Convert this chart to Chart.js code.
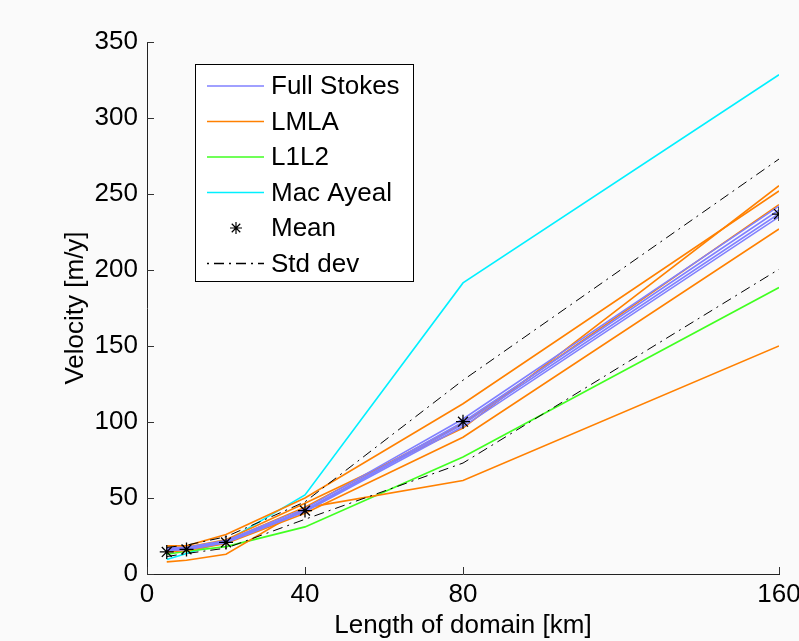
<!DOCTYPE html>
<html>
<head>
<meta charset="utf-8">
<script src="https://cdn.jsdelivr.net/npm/chart.js@4"></script>
<style>
  body { margin: 0; background: #fafafa; }
  #wrap { width: 799px; height: 641px; }
</style>
</head>
<body>
<div id="wrap"><canvas id="velChart" width="799" height="641"></canvas></div>
<script>
// domain lengths (km)
const lengths = [5, 10, 20, 40, 80, 160];
const xTicks = [0, 40, 80, 160];

// Full Stokes runs
const fullStokes = [
  [17, 17.5, 22, 43, 102, 242],
  [16.5, 17, 21.5, 42, 100, 239.5],
  [16, 16.5, 21, 41.5, 98.5, 237],
  [15.5, 16, 20.5, 41, 97, 235]
];
// LMLA runs
const lmla = [
  [18.5, 18.5, 26, 50, 112, 252],
  [16.5, 17.5, 22.5, 46.5, 96, 255.5],
  [15.5, 16.5, 21.5, 44, 99, 243],
  [14.5, 15.5, 20, 40, 90, 227],
  [8, 9, 13, 43.5, 61.5, 150]
];
const l1l2 = [13, 15, 18, 31, 77, 188.5];
const macAyeal = [9.5, 13.5, 21.5, 52, 191.5, 328.5];
const meanVel = [14.5, 16.2, 20.8, 41.7, 100.2, 236.8];
const stdUpper = [17.5, 19, 24.5, 47.5, 127.5, 273];
const stdLower = [11.5, 13.5, 17, 36, 73, 200.5];

const FONT = "'Liberation Sans', Arial, Helvetica, sans-serif";
const cFS = 'rgb(128,128,255)';
const cLM = 'rgb(255,128,0)';
const cL1 = 'rgb(64,255,32)';
const cMA = 'rgb(0,240,255)';

function pts(vals) {
  return vals.map((v, i) => ({ x: lengths[i], y: v }));
}

function lineSet(label, vals, color, order) {
  return {
    label: label,
    data: pts(vals),
    borderColor: color,
    borderWidth: 1.6,
    pointRadius: 0,
    fill: false,
    tension: 0,
    order: order
  };
}

const datasets = [];
fullStokes.forEach(r => datasets.push(lineSet('Full Stokes', r, cFS, 3)));
lmla.forEach(r => datasets.push(lineSet('LMLA', r, cLM, 4)));
datasets.push(lineSet('L1L2', l1l2, cL1, 5));
datasets.push(lineSet('Mac Ayeal', macAyeal, cMA, 6));
datasets.push({
  label: 'Mean',
  data: pts(meanVel),
  showLine: false,
  pointStyle: 'star',
  pointRadius: 7,
  borderColor: '#000',
  backgroundColor: '#000',
  pointBorderWidth: 1.3,
  order: 0
});
[stdUpper, stdLower].forEach(r => {
  const d = lineSet('Std dev', r, '#000', 1);
  d.borderWidth = 1;
  d.borderDash = [10, 5, 2, 5];
  datasets.push(d);
});

const legendItems = [
  { text: 'Full Stokes', color: cFS },
  { text: 'LMLA', color: cLM },
  { text: 'L1L2', color: cL1 },
  { text: 'Mac Ayeal', color: cMA },
  { text: 'Mean', marker: true },
  { text: 'Std dev', color: '#000', dash: [2, 5, 10, 5] }
];

// MATLAB style inward tick marks and boxed legend
const matlabBits = {
  id: 'matlabBits',
  afterDraw(chart) {
    const ctx = chart.ctx;
    const a = chart.chartArea;
    const xs = chart.scales.x, ys = chart.scales.y;
    ctx.save();
    ctx.strokeStyle = '#333';
    ctx.lineWidth = 1;
    xTicks.forEach(t => {
      const px = Math.round(xs.getPixelForValue(t)) + 0.5;
      ctx.beginPath(); ctx.moveTo(px, a.bottom); ctx.lineTo(px, a.bottom - 7); ctx.stroke();
    });
    ys.ticks.forEach(t => {
      const py = Math.round(ys.getPixelForValue(t.value)) + 0.5;
      ctx.beginPath(); ctx.moveTo(a.left, py); ctx.lineTo(a.left + 7, py); ctx.stroke();
    });

    // legend
    const bx = 195.5, by = 64.5, bw = 218, bh = 217;
    ctx.fillStyle = '#fff';
    ctx.fillRect(bx, by, bw, bh);
    ctx.strokeStyle = '#000';
    ctx.strokeRect(bx, by, bw, bh);
    ctx.font = '26px ' + FONT;
    ctx.textBaseline = 'middle';
    legendItems.forEach((it, i) => {
      const y = 86 + i * 35.5;
      if (it.marker) {
        ctx.strokeStyle = '#000';
        ctx.lineWidth = 1.2;
        Chart.helpers.drawPoint(ctx, { pointStyle: 'star', radius: 6, borderWidth: 1.2 }, 236, y);
      } else {
        ctx.strokeStyle = it.color;
        ctx.lineWidth = 1.5;
        ctx.setLineDash(it.dash || []);
        ctx.beginPath(); ctx.moveTo(207, y); ctx.lineTo(264, y); ctx.stroke();
        ctx.setLineDash([]);
      }
      ctx.fillStyle = '#000';
      ctx.fillText(it.text, 271, y + 1);
    });
    ctx.restore();
  }
};

new Chart(document.getElementById('velChart'), {
  type: 'line',
  data: { datasets: datasets },
  options: {
    responsive: false,
    animation: false,
    layout: { padding: { left: 0, right: 20, top: 42, bottom: 0 } },
    plugins: {
      legend: { display: false },
      tooltip: { enabled: false }
    },
    scales: {
      x: {
        type: 'linear',
        min: 0,
        max: 160,
        afterBuildTicks: s => { s.ticks = xTicks.map(v => ({ value: v })); },
        afterFit: s => { s.height = 67; s.paddingRight = 0; s.paddingLeft = 0; },
        grid: { display: false, drawTicks: false },
        border: { display: true, color: '#222', width: 1 },
        ticks: { color: '#000', font: { family: FONT, size: 26 }, padding: 5, maxRotation: 0 },
        title: {
          display: true,
          text: 'Length of domain [km]',
          color: '#000',
          font: { family: FONT, size: 26 },
          padding: { top: 0, bottom: 0 }
        }
      },
      y: {
        min: 0,
        max: 350,
        ticks: { stepSize: 50, color: '#000', font: { family: FONT, size: 26 }, padding: 9 },
        afterFit: s => { s.width = 147; },
        grid: { display: false, drawTicks: false },
        border: { display: true, color: '#222', width: 1 },
        title: {
          display: true,
          text: 'Velocity [m/y]',
          color: '#000',
          font: { family: FONT, size: 26 },
          padding: { top: 60, bottom: 0 }
        }
      }
    }
  },
  plugins: [matlabBits]
});
</script>
</body>
</html>
